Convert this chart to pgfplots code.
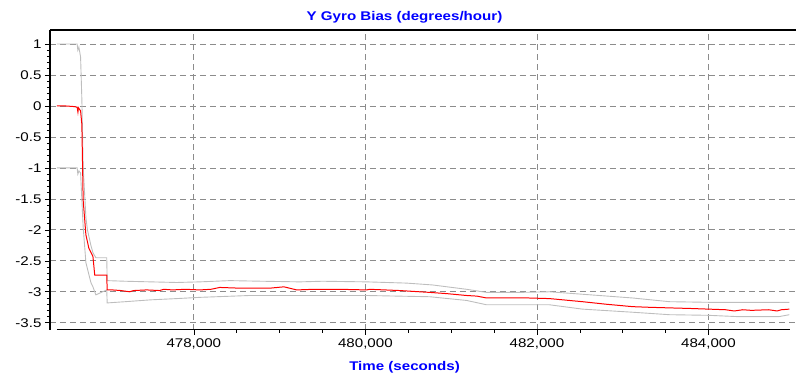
\documentclass[border=0pt]{standalone}
\usepackage{pgfplots}
\pgfplotsset{compat=1.18}
\usepackage{fontspec}
\setmainfont{Liberation Sans}[FakeStretch=1.2]
\definecolor{titleblue}{RGB}{0,0,255}
\definecolor{bandgray}{RGB}{190,190,190}
\definecolor{gridgray}{RGB}{140,140,140}
\begin{document}
\begin{tikzpicture}
\begin{axis}[
  scale only axis,
  width=747bp, height=300bp,
  xmin=476323, xmax=485025,
  ymin=-3.613, ymax=1.226,
  axis x line*=bottom, axis y line*=left,
  x axis line style={draw=none},
  y axis line style={line width=1.4pt,black},
  tick align=outside,
  major tick length=5bp, minor tick length=3bp,
  tick style={black, line width=0.6pt},
  xtick={478000,480000,482000,484000},
  xticklabels={{478,000},{480,000},{482,000},{484,000}},
  ytick={-3.5,-3,-2.5,-2,-1.5,-1,-0.5,0,0.5,1},
  yticklabels={{-3.5},{-3},{-2.5},{-2},{-1.5},{-1},{-0.5},{0},{0.5},{1}},
  minor x tick num=3, minor y tick num=4,
  scaled x ticks=false,
  grid=major,
  major grid style={gridgray, line width=0.7pt, dash pattern=on 6bp off 4bp},
  tick label style={font=\fontsize{12.6bp}{14bp}\selectfont},
  every axis title shift=0pt,
  title={Y Gyro Bias (degrees/hour)},
  title style={at={(axis description cs:0.475,1)}, anchor=center, yshift=13bp,
    font=\fontsize{12.6bp}{14bp}\selectfont\bfseries, text=titleblue},
  xlabel={Time (seconds)},
  xlabel style={at={(axis description cs:0.475,0)}, anchor=center, yshift=-38bp,
    font=\fontsize{12.6bp}{14bp}\selectfont\bfseries, text=titleblue},
  clip=false,
]
% upper band
\addplot[bandgray, line width=0.9pt] coordinates {
(476404,1.0) (476600,1.0) (476640,1.0) (476648,0.9) (476660,0.95) (476680,0.79)
(476695,0.1) (476710,-0.98) (476742,-1.8) (476760,-2.0) (476800,-2.25) (476824,-2.37)
(476858,-2.45) (476985,-2.45) (476990,-2.82) (477200,-2.83) (477500,-2.84) (477800,-2.85)
(478070,-2.84) (478419,-2.82) (478800,-2.83) (479235,-2.84) (479500,-2.83) (480015,-2.84)
(480481,-2.86) (480784,-2.89) (481180,-2.96) (481413,-3.01) (481800,-3.01) (482147,-3.00)
(482531,-3.04) (483114,-3.10) (483544,-3.16) (484000,-3.17) (484943,-3.17)
};
% lower band
\addplot[bandgray, line width=0.9pt] coordinates {
(476404,-1.0) (476600,-1.0) (476640,-1.0) (476648,-1.1) (476660,-1.05) (476680,-1.08)
(476710,-1.95) (476742,-2.53) (476800,-2.85) (476824,-2.92) (476858,-3.05) (476985,-2.97)
(476990,-3.18) (477200,-3.16) (477500,-3.13) (477800,-3.11) (478070,-3.09) (478652,-3.06)
(479500,-3.06) (480015,-3.06) (480749,-3.08) (481180,-3.14) (481413,-3.21) (482147,-3.21)
(482531,-3.28) (483114,-3.33) (483544,-3.37) (484000,-3.38) (484325,-3.40) (484826,-3.40)
(484943,-3.37)
};
% estimate
\addplot[red, line width=1pt] coordinates {
(476404,0) (476500,0) (476600,-0.01) (476640,-0.02) (476649,-0.1) (476655,-0.03)
(476680,-0.08) (476695,-0.3) (476710,-1.52) (476742,-2.08) (476777,-2.30) (476824,-2.43)
(476845,-2.73) (476985,-2.73) (476990,-2.97) (477050,-2.97) (477150,-2.98) (477250,-3.0)
(477300,-2.98) (477450,-2.97) (477600,-2.98) (477650,-2.96) (477750,-2.97) (477900,-2.96)
(478070,-2.97) (478200,-2.96) (478303,-2.93) (478500,-2.94) (478700,-2.94) (478900,-2.94)
(479050,-2.92) (479200,-2.97) (479400,-2.96) (479700,-2.96) (480015,-2.97) (480050,-2.96)
(480400,-2.98) (480749,-3.01) (480950,-3.03) (481180,-3.06) (481300,-3.07) (481413,-3.10)
(481700,-3.10) (481900,-3.10) (482147,-3.11) (482531,-3.16) (482800,-3.20) (483114,-3.24)
(483300,-3.25) (483544,-3.26) (483800,-3.27) (484000,-3.28) (484200,-3.29) (484300,-3.31)
(484400,-3.29) (484500,-3.30) (484700,-3.29) (484800,-3.31) (484850,-3.29) (484943,-3.28)
};
\draw[black, line width=1.2pt] (rel axis cs:0,1) -- (rel axis cs:1,1);
\draw[black, line width=1.4pt] (rel axis cs:0.0094,0) -- (rel axis cs:0.991,0);
\end{axis}
\path[use as bounding box] ([xshift=-50bp,yshift=-49bp]current axis.south west) rectangle ([yshift=30bp]current axis.north east);
\end{tikzpicture}
\end{document}
